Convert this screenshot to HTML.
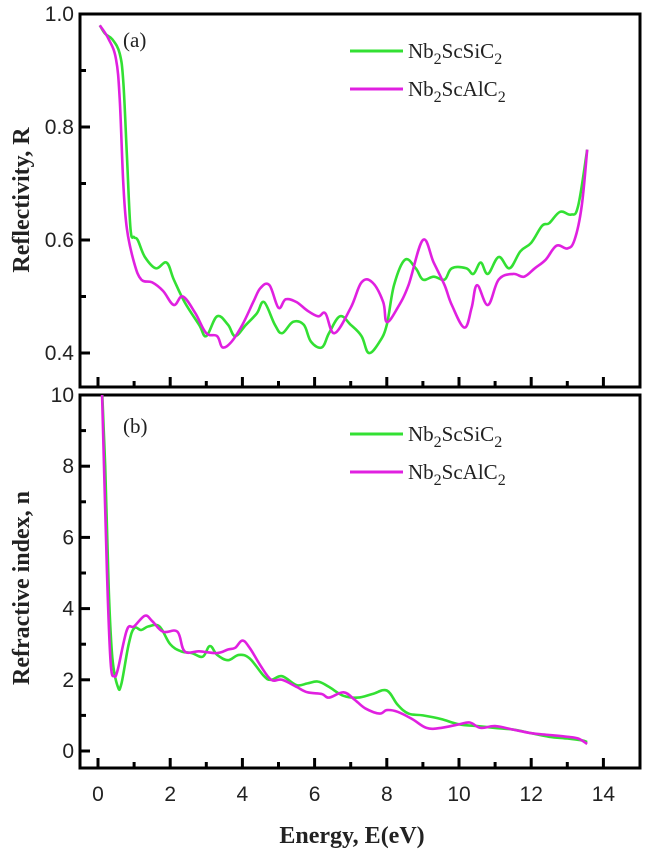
<!DOCTYPE html>
<html><head><meta charset="utf-8"><style>
html,body{margin:0;padding:0;background:#fff;}
svg{display:block;}
.tk{font-family:"Liberation Sans",sans-serif;font-size:21px;fill:#222;}
.lg{font-family:"Liberation Serif",serif;font-size:21px;fill:#222;}
.tt{font-family:"Liberation Serif",serif;font-size:24px;font-weight:bold;fill:#222;}
</style></head><body>
<svg id="chart" width="645" height="858" viewBox="0 0 645 858" xmlns="http://www.w3.org/2000/svg">
<defs>
<clipPath id="clipA"><rect x="80" y="14" width="560" height="373"/></clipPath>
<clipPath id="clipB"><rect x="80" y="395" width="560" height="373"/></clipPath>
</defs>
<g id="panelA"></g>
<g id="panelB"></g>
<text class="tt" transform="translate(29,200) rotate(-90)" text-anchor="middle">Reflectivity, R</text>
<text class="tt" transform="translate(29,588) rotate(-90)" text-anchor="middle">Refractive index, n</text>
<text class="tt" x="352" y="843" text-anchor="middle">Energy, E(eV)</text>
</svg>
<script>
const seriesNames = ["Nb2ScSiC2", "Nb2ScAlC2"];
const xTicks = [0,2,4,6,8,10,12,14];
const aTicks = [0.4,0.6,0.8,1.0];
const bTicks = [0,2,4,6,8,10];
const aSiE = [0.05,0.2,0.4,0.6,0.7,0.8,0.9,1.0,1.1,1.3,1.6,1.9,2.1,2.4,2.8,3.0,3.3,3.6,3.8,4.1,4.4,4.6,4.9,5.1,5.4,5.7,5.9,6.2,6.4,6.7,7.0,7.3,7.5,7.8,8.0,8.2,8.5,8.8,9.0,9.3,9.6,9.8,10.2,10.4,10.6,10.8,11.1,11.4,11.7,12.0,12.3,12.5,12.8,13.1,13.3,13.55];
const aSiR = [0.98,0.965,0.955,0.93,0.88,0.75,0.62,0.605,0.60,0.57,0.55,0.56,0.53,0.49,0.45,0.43,0.465,0.45,0.43,0.45,0.47,0.49,0.45,0.435,0.455,0.45,0.42,0.41,0.435,0.465,0.45,0.43,0.40,0.42,0.45,0.52,0.565,0.55,0.53,0.535,0.53,0.55,0.55,0.54,0.56,0.54,0.57,0.55,0.58,0.595,0.625,0.63,0.65,0.645,0.66,0.76];
const aAlE = [0.05,0.3,0.5,0.6,0.7,0.8,1.0,1.2,1.5,1.8,2.1,2.35,2.7,3.0,3.3,3.45,3.7,4.0,4.3,4.5,4.75,5.0,5.2,5.5,5.8,6.1,6.3,6.55,7.0,7.3,7.6,7.9,8.0,8.3,8.6,9.0,9.3,9.6,9.8,10.15,10.35,10.5,10.8,11.1,11.5,11.8,12.1,12.4,12.7,13.0,13.2,13.4,13.55];
const aAlR = [0.98,0.955,0.92,0.85,0.70,0.62,0.56,0.53,0.525,0.51,0.485,0.50,0.47,0.435,0.43,0.41,0.42,0.45,0.49,0.515,0.52,0.48,0.495,0.49,0.475,0.465,0.47,0.435,0.48,0.525,0.525,0.49,0.455,0.48,0.52,0.60,0.56,0.52,0.485,0.445,0.48,0.52,0.485,0.53,0.54,0.535,0.55,0.565,0.59,0.585,0.60,0.66,0.76];
const bSiE = [0.1,0.2,0.3,0.4,0.55,0.65,0.85,1.0,1.2,1.4,1.7,2.0,2.3,2.6,2.9,3.1,3.3,3.6,3.9,4.2,4.6,4.8,5.1,5.5,5.8,6.1,6.4,6.8,7.2,7.6,8.0,8.3,8.6,9.0,9.5,10.0,10.5,11.0,11.5,12.0,12.5,13.0,13.4,13.55];
const bSiN = [10.5,8,4.5,2.6,1.8,1.9,3.0,3.45,3.4,3.5,3.5,3.0,2.8,2.75,2.65,2.95,2.7,2.55,2.7,2.6,2.1,2.0,2.1,1.85,1.9,1.95,1.8,1.55,1.5,1.6,1.7,1.3,1.05,1.0,0.9,0.75,0.7,0.65,0.6,0.5,0.4,0.35,0.3,0.25];
const bAlE = [0.1,0.25,0.35,0.45,0.55,0.8,1.0,1.3,1.5,1.8,2.2,2.4,2.8,3.3,3.6,3.8,4.0,4.2,4.5,4.8,5.1,5.5,5.8,6.2,6.4,6.8,7.1,7.4,7.8,8.0,8.3,8.7,9.1,9.5,10.0,10.3,10.6,11.0,11.5,12.0,12.5,13.0,13.3,13.55];
const bAlN = [10.5,5,2.5,2.1,2.3,3.4,3.5,3.8,3.65,3.35,3.35,2.8,2.8,2.75,2.85,2.9,3.1,2.9,2.4,2.0,2.0,1.8,1.65,1.6,1.5,1.65,1.45,1.2,1.05,1.15,1.1,0.9,0.65,0.65,0.75,0.8,0.65,0.7,0.6,0.5,0.45,0.4,0.35,0.2];

const NS="http://www.w3.org/2000/svg";
const X0=80, X1=640;
const xs = e => 98 + e*36.1;
const ya = r => 14 + (1.0-r)*565;
const yb = n => 751 - n*35.6;
const GREEN="#33e033", MAG="#e020e0";

function mk(tag, attrs, parent){
  const el=document.createElementNS(NS,tag);
  for(const k in attrs) el.setAttribute(k,attrs[k]);
  parent.appendChild(el); return el;
}
function smoothPath(P){
  let d='M'+P[0][0].toFixed(1)+','+P[0][1].toFixed(1);
  for(let i=0;i<P.length-1;i++){
    const p0=P[Math.max(0,i-1)],p1=P[i],p2=P[i+1],p3=P[Math.min(P.length-1,i+2)];
    const t=0.18;
    const c1=[p1[0]+(p2[0]-p0[0])*t,p1[1]+(p2[1]-p0[1])*t];
    const c2=[p2[0]-(p3[0]-p1[0])*t,p2[1]-(p3[1]-p1[1])*t];
    d+=' C'+c1.map(v=>v.toFixed(1)).join(',')+' '+c2.map(v=>v.toFixed(1)).join(',')+' '+p2.map(v=>v.toFixed(1)).join(',');
  }
  return d;
}
function panel(g, top, bot, ticks, minorTicks, yfn, fmt, clip, sets, label, legY){
  const f=mk('rect',{x:X0,y:top,width:X1-X0,height:bot-top,fill:'none',stroke:'#000','stroke-width':3},g);
  
  
  xTicks.forEach(t=>{
    const l=mk('line',{x1:xs(t),x2:xs(t),y1:bot,y2:bot-10,stroke:'#000','stroke-width':3},g);
    
    
    if(t<14){
      const m=mk('line',{x1:xs(t+1),x2:xs(t+1),y1:bot,y2:bot-6,stroke:'#000','stroke-width':3},g);
      
      
    }
  });
  ticks.forEach(t=>{
    const l=mk('line',{x1:X0,x2:X0+10,y1:yfn(t),y2:yfn(t),stroke:'#000','stroke-width':3},g);
    
    
    const tx=mk('text',{x:X0-6,y:yfn(t)+7,'text-anchor':'end',class:'tk'},g);
    tx.textContent=fmt(t);
    
    
  });
  minorTicks.forEach(t=>{
    const l=mk('line',{x1:X0,x2:X0+6,y1:yfn(t),y2:yfn(t),stroke:'#000','stroke-width':3},g);
    
    
  });
  sets.forEach((s,i)=>{
    const P=s.e.map((e,j)=>[xs(e),yfn(s.v[j])]);
    const p=mk('path',{d:smoothPath(P),fill:'none',stroke:s.c,'stroke-width':2.6,'stroke-linejoin':'round','clip-path':clip},g);
    
    
    const ly=legY+i*38;
    const ll=mk('line',{x1:350,x2:403,y1:ly,y2:ly,stroke:s.c,'stroke-width':3},g);
    
    
    const lt=mk('text',{x:408,y:ly+7,class:'lg'},g);
    
    
    const nm = i===0 ? ['Nb','2','ScSiC','2'] : ['Nb','2','ScAlC','2'];
    nm.forEach((t,k)=>{
      const ts=document.createElementNS(NS,'tspan');
      ts.textContent=t;
      if(k%2===1){ts.setAttribute('dy','6');ts.setAttribute('font-size','16');}
      else if(k>0){ts.setAttribute('dy','-6');}
      lt.appendChild(ts);
    });
  });
  const lb=mk('text',{x:123,y:top+(label==='(a)'?33:38),class:'lg'},g);
  lb.textContent=label;
  
  
}
panel(document.getElementById('panelA'),14,387,aTicks,[0.5,0.7,0.9],ya,t=>t.toFixed(1),'url(#clipA)',
  [{e:aSiE,v:aSiR,c:GREEN},{e:aAlE,v:aAlR,c:MAG}],'(a)',51);
panel(document.getElementById('panelB'),395,768,bTicks,[1,3,5,7,9],yb,t=>String(t),'url(#clipB)',
  [{e:bSiE,v:bSiN,c:GREEN},{e:bAlE,v:bAlN,c:MAG}],'(b)',434);
xTicks.forEach(t=>{
  const tx=mk('text',{x:xs(t),y:801,'text-anchor':'middle',class:'tk'},document.getElementById('chart'));
  tx.textContent=String(t);
  
  
});
</script>
</body></html>
